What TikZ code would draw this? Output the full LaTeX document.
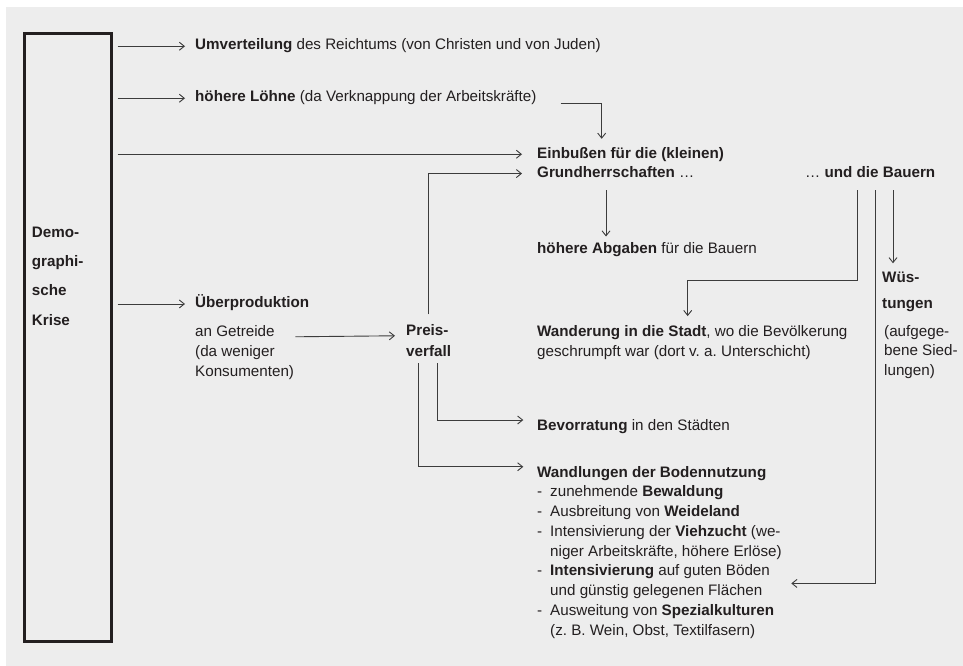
\documentclass[tikz,border=0pt]{standalone}
\usepackage{fontspec}
\setmainfont{Liberation Sans}
\usetikzlibrary{arrows.meta,calc}
\definecolor{bggray}{HTML}{EDEDED}
\definecolor{inkc}{HTML}{231F20}
\definecolor{linec}{HTML}{3C3C3C}
\newcommand{\listdash}{\makebox[13pt][l]{-}}
\newcommand{\listgap}{\hspace*{13pt}}
\frenchspacing

\begin{document}
\begin{tikzpicture}[x=1pt,y=-1pt,
    every node/.style={inner sep=0pt, text=inkc},
    txt/.style={anchor=base west, align=left, font=\fontsize{15.2}{19.7}\selectfont},
    one/.style={txt, text height=10.7pt, text depth=3.2pt},
    arr/.style={draw=linec, line width=0.9pt, -{Straight Barb[length=5pt,width=8pt,line width=0.9pt]}},
    krisebox/.style={draw=inkc, line width=3pt, minimum width=86.6pt, minimum height=607.5pt}]
        \useasboundingbox (0,0) rectangle (963,666);
        \fill[white] (0,0) rectangle (963,666);
        \fill[bggray] (6,7) rectangle (963,666);
        % left box (multi-line nodes sit on their last baseline)
        \node[krisebox] (krise) at (68,337.3) {};
        \node[txt, font=\fontsize{15.2}{29.3}\selectfont\bfseries] (kristext) at (31.7,325) {Demo-\\graphi-\\sche\\Krise};
        \coordinate (krout) at ([xshift=4.7pt]krise.east);
        % texts
        \node[one] (umv) at (195,50) {\textbf{Umverteilung} des Reichtums (von Christen und von Juden)};
        \node[one] (loehne) at (195,102) {\textbf{höhere Löhne} (da Verknappung der Arbeitskräfte)};
        \node[one] (einb) at (537,158) {\textbf{Einbußen für die (kleinen)}};
        \node[one] (grund) at (537,177.3) {\textbf{Grundherrschaften} …};
        \node[one] (bauern) at (805,177.3) {… \textbf{und die Bauern}};
        \node[one] (abgaben) at (537,253) {\textbf{höhere Abgaben} für die Bauern};
        \node[txt] (wanderung) at (537,356) {\textbf{Wanderung in die Stadt}, wo die Bevölkerung\\geschrumpft war (dort v. a. Unterschicht)};
        \node[txt, font=\fontsize{15.2}{26}\selectfont\bfseries] (wuest) at (882,308) {Wüs-\\tungen};
        \node[txt, font=\fontsize{15.2}{19.5}\selectfont] (siedl) at (884,375) {(aufgege-\\bene Sied-\\lungen)};
        \node[one] (ueber) at (195,307.7) {\textbf{Überproduktion}};
        \node[txt, font=\fontsize{15.2}{20}\selectfont] (getreide) at (195,376) {an Getreide\\(da weniger\\Konsumenten)};
        \node[txt, font=\fontsize{15.2}{21}\selectfont\bfseries] (preis) at (406,356) {Preis-\\verfall};
        \node[one] (bevor) at (537,430) {\textbf{Bevorratung} in den Städten};
        \node[one] (wandl) at (537,477) {\textbf{Wandlungen der Bodennutzung}};
        \node[txt, font=\fontsize{15.2}{19.75}\selectfont] (wlist) at (537,635) {\listdash zunehmende \textbf{Bewaldung}\\
            \listdash Ausbreitung von \textbf{Weideland}\\
            \listdash Intensivierung der \textbf{Viehzucht} (we-\\
            \listgap niger Arbeitskräfte, höhere Erlöse)\\
            \listdash \textbf{Intensivierung} auf guten Böden\\
            \listgap und günstig gelegenen Flächen\\
            \listdash Ausweitung von \textbf{Spezialkulturen}\\
            \listgap (z. B. Wein, Obst, Textilfasern)};
        % arrows from the box
        \draw[arr] (krout |- umv.west) -- ([xshift=-10pt]umv.west);
        \draw[arr] (krout |- loehne.west) -- ([xshift=-10pt]loehne.west);
        \draw[arr] (krout |- einb.west) -- ([xshift=-15pt]einb.west);
        \draw[arr] (krout |- ueber.west) -- ([xshift=-10pt]ueber.west);
        % further connectors
        \draw[arr] ([xshift=24pt,yshift=-5pt]loehne.east) -| ([xshift=64.7pt,yshift=8.3pt]einb.north west);
        \draw[arr] ([xshift=69pt,yshift=-9.5pt]grund.south west) -- ([xshift=69pt,yshift=5.6pt]abgaben.north west);
        \draw[arr] ([xshift=52pt,yshift=-9.5pt]bauern.south west) -- ++(0,90) -| ([xshift=150.7pt,yshift=9pt]wanderung.north west);
        \draw[arr] ([xshift=88pt,yshift=-9.5pt]bauern.south west) coordinate (wtop) -- ($(wtop |- wuest.north)+(0,-8)$);
        \draw[arr] ([xshift=70.3pt,yshift=-9.5pt]bauern.south west) |- ($(wlist.south east)+(9.4,-54.9)$);
        \draw[arr] ($(getreide.north east)+(1,12)$) -- ($(preis.north west)+(-11,12)$);
        \draw[arr] ([xshift=22.3pt,yshift=9.3pt]preis.north west) |- ([xshift=-15pt]grund.west);
        \draw[arr] ([xshift=31.7pt,yshift=-7pt]preis.south west) |- ([xshift=-13.7pt,yshift=6.25pt]bevor.west);
        \draw[arr] ([xshift=12.3pt,yshift=-7pt]preis.south west) |- ([xshift=-13.7pt,yshift=6.5pt]wandl.west);
\end{tikzpicture}
\end{document}
